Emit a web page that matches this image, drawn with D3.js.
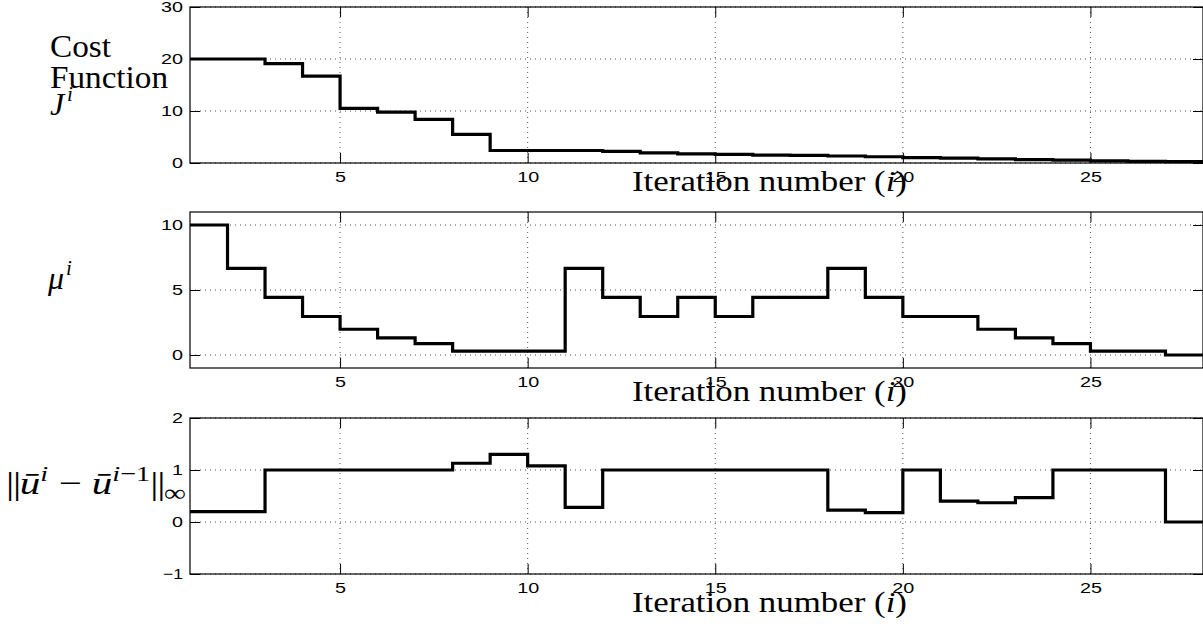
<!DOCTYPE html>
<html>
<head>
<meta charset="utf-8">
<script src="https://cdn.jsdelivr.net/npm/d3@7"></script>
<style>
  html, body { margin: 0; padding: 0; background: #fff; }
  svg { display: block; }
</style>
</head>
<body>
<svg id="chart" width="1203" height="624"></svg>
<script>
// ---------- data ----------
const iterations = d3.range(1, 29); // 1..28
const costJ = [20, 20, 19.1, 16.7, 10.5, 9.8, 8.4, 5.5, 2.4, 2.4, 2.4, 2.25, 1.95, 1.75,
               1.65, 1.5, 1.45, 1.35, 1.2, 1.05, 0.95, 0.8, 0.65, 0.55, 0.4, 0.3, 0.25, 0.2];
const muValues = [10, 6.67, 4.44, 2.96, 1.98, 1.32, 0.88, 0.3, 0.3, 0.3, 6.67, 4.44, 2.96, 4.44,
                  2.96, 4.44, 4.44, 6.67, 4.44, 2.96, 2.96, 1.98, 1.32, 0.88, 0.3, 0.3, 0, 0];
const normValues = [0.2, 0.2, 1, 1, 1, 1, 1, 1.13, 1.3, 1.08, 0.28, 1, 1, 1,
                    1, 1, 1, 0.23, 0.18, 1, 0.4, 0.37, 0.47, 1, 1, 1, 0, 0];
const xTicks = [5, 10, 15, 20, 25];
const yTicksJ = [0, 10, 20, 30];
const yTicksMu = [0, 5, 10];
const yTicksNorm = [-1, 0, 1, 2];
const xLabelText = "Iteration number";

// ---------- layout ----------
const svg = d3.select("#chart");
const L = 190, R = 1203, H = 156;
const x = d3.scaleLinear().domain([1, 28]).range([L, R]);
const fmt = d => (d < 0 ? "−" + Math.abs(d) : String(d));

const panels = [
  { top: 7,   domain: [0, 30],  ticks: yTicksJ,    values: costJ,      xlabelBase: 191 },
  { top: 212, domain: [-1, 11], ticks: yTicksMu,   values: muValues,   xlabelBase: 401 },
  { top: 418, domain: [-1, 2],  ticks: yTicksNorm, values: normValues, xlabelBase: 612 }
];

function styleTickText(sel) {
  sel.selectAll("text")
    .attr("font-family", "Liberation Sans, Arial, sans-serif")
    .attr("font-size", 15)
    .attr("fill", "#000")
    .attr("lengthAdjust", "spacingAndGlyphs")
    .attr("textLength", function () {
      const t = this.textContent;
      return t.startsWith("−") ? 9 + 11 * (t.length - 1) : 11 * t.length;
    });
  sel.selectAll("line").attr("stroke", "#000");
  sel.select(".domain").remove();
}

panels.forEach(p => {
  const y = d3.scaleLinear().domain(p.domain).range([p.top + H, p.top]);
  const g = svg.append("g");

  // grid
  g.append("g").selectAll("line").data(xTicks).join("line")
    .attr("x1", d => x(d)).attr("x2", d => x(d))
    .attr("y1", p.top).attr("y2", p.top + H)
    .attr("stroke", "#555").attr("stroke-width", 1).attr("stroke-dasharray", "1,4");
  g.append("g").selectAll("line").data(p.ticks).join("line")
    .attr("x1", L).attr("x2", R)
    .attr("y1", d => y(d)).attr("y2", d => y(d))
    .attr("stroke", "#555").attr("stroke-width", 1).attr("stroke-dasharray", "1,4");

  // axes (ticks inside)
  g.append("g").attr("transform", `translate(0,${p.top + H})`)
    .call(d3.axisBottom(x).tickValues(xTicks).tickSize(-10).tickSizeOuter(0).tickPadding(8).tickFormat(fmt))
    .call(styleTickText);
  g.append("g").attr("transform", `translate(0,${p.top})`)
    .call(d3.axisTop(x).tickValues(xTicks).tickSize(-10).tickSizeOuter(0).tickFormat(""))
    .call(styleTickText);
  g.append("g").attr("transform", `translate(${L},0)`)
    .call(d3.axisLeft(y).tickValues(p.ticks).tickSize(-10).tickSizeOuter(0).tickPadding(7).tickFormat(fmt))
    .call(styleTickText);
  g.append("g").attr("transform", `translate(${R},0)`)
    .call(d3.axisRight(y).tickValues(p.ticks).tickSize(-10).tickSizeOuter(0).tickFormat(""))
    .call(styleTickText);

  // frame
  g.append("rect")
    .attr("x", L).attr("y", p.top).attr("width", R - L).attr("height", H)
    .attr("fill", "none").attr("stroke", "#000").attr("stroke-width", 1.2);

  // stairs
  const line = d3.line()
    .x((d, i) => x(iterations[i]))
    .y(d => y(d))
    .curve(d3.curveStepAfter);
  g.append("path")
    .datum(p.values)
    .attr("d", line)
    .attr("fill", "none")
    .attr("stroke", "#000")
    .attr("stroke-width", 3.2)
    .attr("stroke-linejoin", "miter");

  // x label
  const xl = g.append("text")
    .attr("x", 632).attr("y", p.xlabelBase)
    .attr("font-family", "Liberation Serif, Times New Roman, serif")
    .attr("font-size", 30)
    .attr("fill", "#000")
    .attr("textLength", 275)
    .attr("lengthAdjust", "spacingAndGlyphs");
  xl.append("tspan").text(xLabelText + " (");
  xl.append("tspan").attr("font-style", "italic").text("i");
  xl.append("tspan").text(")");
});

// ---------- y labels ----------
const serif = "Liberation Serif, Times New Roman, serif";
function txt(xp, yp, s, opts = {}) {
  const t = svg.append("text").attr("x", xp).attr("y", yp)
    .attr("font-family", serif).attr("font-size", opts.size || 31).attr("fill", "#000");
  if (opts.italic) t.attr("font-style", "italic");
  if (opts.len) t.attr("textLength", opts.len).attr("lengthAdjust", "spacingAndGlyphs");
  t.text(s);
  return t;
}
txt(50, 57, "Cost", { len: 61 });
txt(50, 88, "Function", { len: 118 });
txt(50, 115, "J", { italic: true, size: 32 });
txt(67, 101, "i", { italic: true, size: 21 });

txt(48, 289, "μ", { italic: true, size: 32 });
txt(66, 275, "i", { italic: true, size: 21 });

// norm label
const nl = svg.append("text").attr("x", 6).attr("y", 494)
  .attr("font-family", serif).attr("font-size", 32).attr("fill", "#000")
  .attr("textLength", 180).attr("lengthAdjust", "spacingAndGlyphs");
nl.append("tspan").attr("letter-spacing", -1).text("||");
nl.append("tspan").attr("font-style", "italic").text("ū");
nl.append("tspan").attr("font-style", "italic").attr("font-size", 22).attr("dy", -13).text("i");
nl.append("tspan").attr("dy", 13).text(" − ");
nl.append("tspan").attr("font-style", "italic").text("ū");
nl.append("tspan").attr("font-size", 22).attr("dy", -13)
  .html('<tspan font-style="italic">i</tspan>−1');
nl.append("tspan").attr("dy", 13).attr("letter-spacing", -1).text("||");
nl.append("tspan").attr("font-size", 24).attr("dy", 7).text("∞");
</script>
</body>
</html>
